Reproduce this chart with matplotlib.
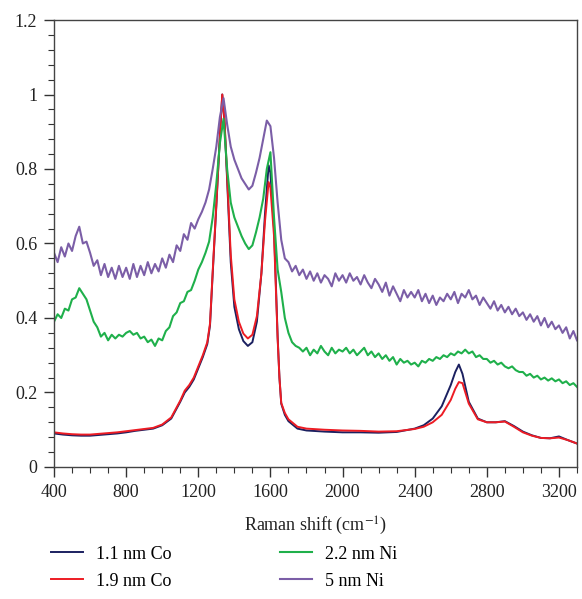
import numpy as np
import matplotlib
matplotlib.use("Agg")
import matplotlib.pyplot as plt
from matplotlib.ticker import MultipleLocator, FuncFormatter

plt.rcParams['font.family'] = ['Liberation Serif', 'DejaVu Serif']
plt.rcParams['mathtext.fontset'] = 'stix'

# Co samples: shared Raman shift grid (cm^-1)
shift_co = [400, 450, 500, 550, 600, 650, 700, 750, 800, 850, 900, 950, 1000, 1050, 1100,
            1125, 1150, 1175, 1200, 1225, 1250, 1265, 1280, 1300,
            1320, 1333, 1345, 1360, 1380, 1400,
            1425, 1450, 1475, 1500, 1525, 1550,
            1570, 1590, 1600, 1620, 1640, 1650, 1660, 1680, 1700,
            1750, 1800,
            1900, 2000, 2100, 2200, 2300, 2400,
            2450, 2500, 2550, 2600,
            2625, 2645, 2665, 2700,
            2750, 2800, 2850, 2900, 2950, 3000, 3050, 3100, 3150, 3200, 3250, 3300]

co_11 = [0.090, 0.087, 0.085, 0.084, 0.084, 0.086, 0.088, 0.090, 0.093, 0.097, 0.100, 0.103, 0.112, 0.130, 0.175,
         0.200, 0.215, 0.235, 0.265, 0.295, 0.330, 0.380, 0.520, 0.700,
         0.890, 1.000, 0.930, 0.770, 0.550, 0.430,
         0.370, 0.338, 0.325, 0.335, 0.390, 0.520,
         0.680, 0.810, 0.790, 0.640, 0.350, 0.240, 0.170, 0.140, 0.123,
         0.103, 0.098,
         0.095, 0.093, 0.093, 0.092, 0.094, 0.103,
         0.112, 0.130, 0.163, 0.220,
         0.255, 0.275, 0.250, 0.175,
         0.130, 0.120, 0.120, 0.123, 0.110, 0.095, 0.085, 0.078, 0.077, 0.082, 0.072, 0.063]

co_19 = [0.093, 0.090, 0.088, 0.087, 0.087, 0.089, 0.091, 0.093, 0.096, 0.099, 0.102, 0.105, 0.114, 0.133, 0.178,
         0.205, 0.220, 0.240, 0.270, 0.300, 0.335, 0.385, 0.525, 0.705,
         0.890, 1.000, 0.935, 0.780, 0.570, 0.450,
         0.390, 0.358, 0.345, 0.355, 0.405, 0.520,
         0.660, 0.765, 0.750, 0.620, 0.345, 0.240, 0.172, 0.145, 0.128,
         0.108, 0.103,
         0.100, 0.098, 0.097, 0.095, 0.096, 0.102,
         0.108, 0.120, 0.140, 0.180,
         0.210, 0.228, 0.225, 0.170,
         0.128, 0.120, 0.120, 0.122, 0.108, 0.093, 0.084, 0.078, 0.077, 0.079, 0.072, 0.063]

# Ni samples: sampled every 20 cm^-1 from 400 to 3300
shift_ni = list(range(400, 3301, 20))

ni_22 = [0.390, 0.410, 0.400, 0.425, 0.420, 0.450, 0.455, 0.480, 0.465, 0.450,
         0.420, 0.390, 0.375, 0.350, 0.360, 0.340, 0.355, 0.345, 0.355, 0.350,
         0.360, 0.365, 0.355, 0.360, 0.345, 0.350, 0.335, 0.342, 0.325, 0.345,
         0.340, 0.365, 0.375, 0.405, 0.415, 0.440, 0.445, 0.470, 0.475, 0.500,
         0.530, 0.550, 0.575, 0.605, 0.670, 0.760, 0.870, 0.935, 0.800, 0.710,
         0.670, 0.645, 0.620, 0.600, 0.585, 0.595, 0.630, 0.670, 0.720, 0.800,
         0.845, 0.670, 0.530, 0.470, 0.400, 0.360, 0.335, 0.325, 0.320, 0.310,
         0.320, 0.300, 0.315, 0.305, 0.325, 0.310, 0.300, 0.320, 0.305, 0.315,
         0.310, 0.320, 0.305, 0.315, 0.300, 0.310, 0.320, 0.300, 0.310, 0.295,
         0.305, 0.290, 0.300, 0.285, 0.295, 0.275, 0.290, 0.280, 0.285, 0.275,
         0.280, 0.270, 0.285, 0.280, 0.290, 0.285, 0.295, 0.290, 0.300, 0.295,
         0.305, 0.300, 0.310, 0.305, 0.315, 0.305, 0.310, 0.295, 0.300, 0.290,
         0.290, 0.280, 0.285, 0.275, 0.280, 0.270, 0.265, 0.270, 0.260, 0.255,
         0.255, 0.245, 0.250, 0.240, 0.245, 0.235, 0.240, 0.232, 0.238, 0.230,
         0.235, 0.225, 0.230, 0.220, 0.225, 0.215]

ni_5 = [0.575, 0.550, 0.590, 0.565, 0.600, 0.580, 0.620, 0.645, 0.600, 0.605,
        0.575, 0.540, 0.555, 0.515, 0.545, 0.510, 0.535, 0.505, 0.540, 0.510,
        0.535, 0.505, 0.545, 0.510, 0.540, 0.515, 0.550, 0.520, 0.545, 0.525,
        0.560, 0.535, 0.570, 0.550, 0.595, 0.580, 0.625, 0.610, 0.655, 0.640,
        0.665, 0.685, 0.710, 0.745, 0.800, 0.860, 0.940, 0.990, 0.920, 0.860,
        0.825, 0.800, 0.775, 0.760, 0.745, 0.755, 0.790, 0.830, 0.880, 0.930,
        0.915, 0.830, 0.710, 0.610, 0.560, 0.550, 0.525, 0.540, 0.515, 0.530,
        0.505, 0.525, 0.500, 0.520, 0.495, 0.515, 0.505, 0.485, 0.520, 0.500,
        0.515, 0.495, 0.520, 0.500, 0.510, 0.490, 0.515, 0.495, 0.480, 0.505,
        0.490, 0.470, 0.495, 0.460, 0.485, 0.465, 0.445, 0.475, 0.455, 0.470,
        0.455, 0.475, 0.445, 0.465, 0.440, 0.460, 0.435, 0.455, 0.445, 0.465,
        0.450, 0.470, 0.440, 0.465, 0.455, 0.475, 0.450, 0.460, 0.435, 0.455,
        0.440, 0.425, 0.445, 0.420, 0.435, 0.415, 0.430, 0.410, 0.425, 0.405,
        0.415, 0.395, 0.410, 0.390, 0.405, 0.380, 0.400, 0.375, 0.390, 0.370,
        0.380, 0.360, 0.375, 0.345, 0.365, 0.340]

fig = plt.figure(figsize=(5.82, 5.99), dpi=100)
ax = fig.add_axes([0.0928, 0.2204, 0.8986, 0.7462])

l1, = ax.plot(shift_co, co_11, color='#1b2060', lw=1.4, label='1.1 nm Co')
l2, = ax.plot(shift_co, co_19, color='#ed1c24', lw=1.4, label='1.9 nm Co')
l3, = ax.plot(shift_ni, ni_22, color='#1fb04b', lw=1.5, label='2.2 nm Ni')
l4, = ax.plot(shift_ni, ni_5, color='#7b5ea7', lw=1.5, label='5 nm Ni')

ax.set_xlim(400, 3300)
ax.set_ylim(0, 1.2)
ax.xaxis.set_major_locator(MultipleLocator(400))
ax.xaxis.set_minor_locator(MultipleLocator(100))
ax.yaxis.set_major_locator(MultipleLocator(0.2))
ax.yaxis.set_minor_locator(MultipleLocator(0.04))
ax.yaxis.set_major_formatter(FuncFormatter(lambda v, p: '%g' % round(v, 2)))
ax.tick_params(which='both', direction='out', top=False, right=False,
               labelsize=13, colors='#333333', labelcolor='#222222')
ax.tick_params(which='major', length=7, width=1, pad=5)
ax.tick_params(which='minor', length=4, width=0.8)
for s in ax.spines.values():
    s.set_color('#444444')
    s.set_linewidth(1)

ax.set_xlabel('Raman shift (cm$^{-1}$)', fontsize=13, color='#222222', labelpad=10)

fig.legend(handles=[l1, l2, l3, l4], ncol=2, frameon=False, fontsize=13,
           loc='upper left', bbox_to_anchor=(0.072, 0.104), handlelength=1.8,
           handletextpad=0.7, columnspacing=6.0, labelspacing=0.55, borderpad=0)

fig.savefig('out.png', dpi=100)
